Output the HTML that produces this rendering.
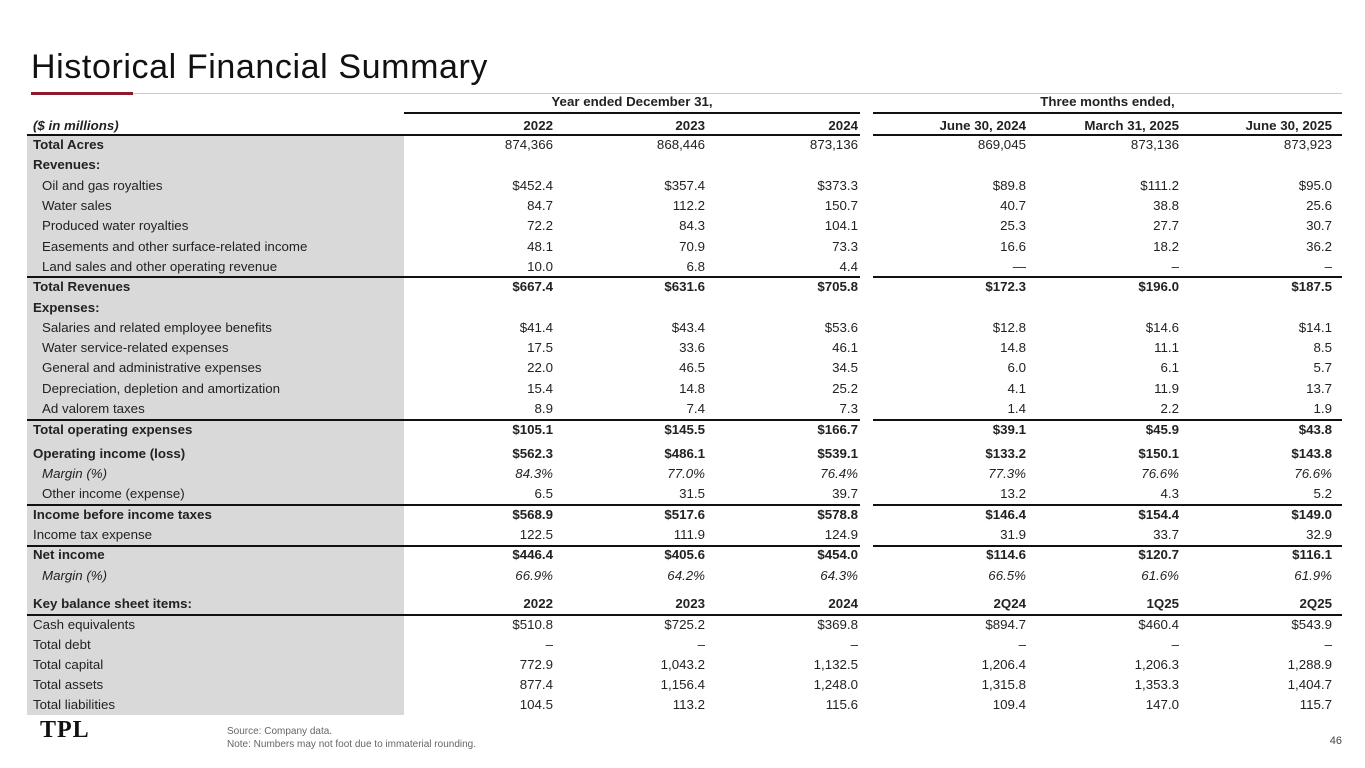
<!DOCTYPE html>
<html><head><meta charset="utf-8"><style>
body{margin:0;width:1365px;height:768px;background:#fff;position:relative;font-family:"Liberation Sans",sans-serif;color:#222;overflow:hidden}
.t{position:absolute;left:31px;top:48px;font-size:34px;letter-spacing:0.6px;color:#111}
.gl{position:absolute;left:31px;top:93px;width:1311px;height:1px;background:#ccc}
.rl{position:absolute;left:31px;top:92px;width:102px;height:3px;background:#8b1a2e}
.gray{position:absolute;left:27px;top:135px;width:377px;height:580px;background:#d9d9d9}
.r{position:absolute;left:27px;width:1315px;height:20px;font-size:13.3px;line-height:20px}
.r span{position:absolute;top:0}
.l{left:6px}.i{left:15px}
.c1{right:789px}.c2{right:637px}.c3{right:484px}.c4{right:316px}.c5{right:163px}.c6{right:10px}
.b{font-weight:bold}.it{font-style:italic}
.ln{position:absolute;height:1.5px;background:#111}
.h{position:absolute;font-size:13.3px;font-weight:bold}
</style></head><body>
<div class="t">Historical Financial Summary</div>
<div class="gl"></div><div class="rl"></div>
<div class="gray"></div>
<div class="h" style="left:404px;width:456px;text-align:center;top:94px">Year ended December 31,</div>
<div class="h" style="left:873px;width:469px;text-align:center;top:94px">Three months ended,</div>
<div class="ln" style="left:404px;width:456px;top:112px"></div>
<div class="ln" style="left:873px;width:469px;top:112px"></div>
<div class="r b" style="top:116px"><span class="l it">($ in millions)</span><span class="c1">2022</span><span class="c2">2023</span><span class="c3">2024</span><span class="c4">June 30, 2024</span><span class="c5">March 31, 2025</span><span class="c6">June 30, 2025</span></div>
<div class="ln" style="left:27px;width:833px;top:134px"></div><div class="ln" style="left:873px;width:469px;top:134px"></div>

<div class="r" style="top:135px"><span class="l b">Total Acres</span><span class="c1">874,366</span><span class="c2">868,446</span><span class="c3">873,136</span><span class="c4">869,045</span><span class="c5">873,136</span><span class="c6">873,923</span></div>
<div class="r" style="top:155px"><span class="l b">Revenues:</span></div>
<div class="r" style="top:176px"><span class="i">Oil and gas royalties</span><span class="c1">$452.4</span><span class="c2">$357.4</span><span class="c3">$373.3</span><span class="c4">$89.8</span><span class="c5">$111.2</span><span class="c6">$95.0</span></div>
<div class="r" style="top:196px"><span class="i">Water sales</span><span class="c1">84.7</span><span class="c2">112.2</span><span class="c3">150.7</span><span class="c4">40.7</span><span class="c5">38.8</span><span class="c6">25.6</span></div>
<div class="r" style="top:216px"><span class="i">Produced water royalties</span><span class="c1">72.2</span><span class="c2">84.3</span><span class="c3">104.1</span><span class="c4">25.3</span><span class="c5">27.7</span><span class="c6">30.7</span></div>
<div class="r" style="top:237px"><span class="i">Easements and other surface-related income</span><span class="c1">48.1</span><span class="c2">70.9</span><span class="c3">73.3</span><span class="c4">16.6</span><span class="c5">18.2</span><span class="c6">36.2</span></div>
<div class="r" style="top:257px"><span class="i">Land sales and other operating revenue</span><span class="c1">10.0</span><span class="c2">6.8</span><span class="c3">4.4</span><span class="c4">—</span><span class="c5">–</span><span class="c6">–</span></div>
<div class="ln" style="left:27px;width:833px;top:276px"></div><div class="ln" style="left:873px;width:469px;top:276px"></div>
<div class="r b" style="top:277px"><span class="l">Total Revenues</span><span class="c1">$667.4</span><span class="c2">$631.6</span><span class="c3">$705.8</span><span class="c4">$172.3</span><span class="c5">$196.0</span><span class="c6">$187.5</span></div>
<div class="r" style="top:298px"><span class="l b">Expenses:</span></div>
<div class="r" style="top:318px"><span class="i">Salaries and related employee benefits</span><span class="c1">$41.4</span><span class="c2">$43.4</span><span class="c3">$53.6</span><span class="c4">$12.8</span><span class="c5">$14.6</span><span class="c6">$14.1</span></div>
<div class="r" style="top:338px"><span class="i">Water service-related expenses</span><span class="c1">17.5</span><span class="c2">33.6</span><span class="c3">46.1</span><span class="c4">14.8</span><span class="c5">11.1</span><span class="c6">8.5</span></div>
<div class="r" style="top:358px"><span class="i">General and administrative expenses</span><span class="c1">22.0</span><span class="c2">46.5</span><span class="c3">34.5</span><span class="c4">6.0</span><span class="c5">6.1</span><span class="c6">5.7</span></div>
<div class="r" style="top:379px"><span class="i">Depreciation, depletion and amortization</span><span class="c1">15.4</span><span class="c2">14.8</span><span class="c3">25.2</span><span class="c4">4.1</span><span class="c5">11.9</span><span class="c6">13.7</span></div>
<div class="r" style="top:399px"><span class="i">Ad valorem taxes</span><span class="c1">8.9</span><span class="c2">7.4</span><span class="c3">7.3</span><span class="c4">1.4</span><span class="c5">2.2</span><span class="c6">1.9</span></div>
<div class="ln" style="left:27px;width:833px;top:419px"></div><div class="ln" style="left:873px;width:469px;top:419px"></div>
<div class="r b" style="top:420px"><span class="l">Total operating expenses</span><span class="c1">$105.1</span><span class="c2">$145.5</span><span class="c3">$166.7</span><span class="c4">$39.1</span><span class="c5">$45.9</span><span class="c6">$43.8</span></div>
<div class="r b" style="top:444px"><span class="l">Operating income (loss)</span><span class="c1">$562.3</span><span class="c2">$486.1</span><span class="c3">$539.1</span><span class="c4">$133.2</span><span class="c5">$150.1</span><span class="c6">$143.8</span></div>
<div class="r it" style="top:464px"><span class="i">Margin (%)</span><span class="c1">84.3%</span><span class="c2">77.0%</span><span class="c3">76.4%</span><span class="c4">77.3%</span><span class="c5">76.6%</span><span class="c6">76.6%</span></div>
<div class="r" style="top:484px"><span class="i">Other income (expense)</span><span class="c1">6.5</span><span class="c2">31.5</span><span class="c3">39.7</span><span class="c4">13.2</span><span class="c5">4.3</span><span class="c6">5.2</span></div>
<div class="ln" style="left:27px;width:833px;top:504px"></div><div class="ln" style="left:873px;width:469px;top:504px"></div>
<div class="r b" style="top:505px"><span class="l">Income before income taxes</span><span class="c1">$568.9</span><span class="c2">$517.6</span><span class="c3">$578.8</span><span class="c4">$146.4</span><span class="c5">$154.4</span><span class="c6">$149.0</span></div>
<div class="r" style="top:525px"><span class="l">Income tax expense</span><span class="c1">122.5</span><span class="c2">111.9</span><span class="c3">124.9</span><span class="c4">31.9</span><span class="c5">33.7</span><span class="c6">32.9</span></div>
<div class="ln" style="left:27px;width:833px;top:545px"></div><div class="ln" style="left:873px;width:469px;top:545px"></div>
<div class="r b" style="top:545px"><span class="l">Net income</span><span class="c1">$446.4</span><span class="c2">$405.6</span><span class="c3">$454.0</span><span class="c4">$114.6</span><span class="c5">$120.7</span><span class="c6">$116.1</span></div>
<div class="r it" style="top:566px"><span class="i">Margin (%)</span><span class="c1">66.9%</span><span class="c2">64.2%</span><span class="c3">64.3%</span><span class="c4">66.5%</span><span class="c5">61.6%</span><span class="c6">61.9%</span></div>
<div class="r b" style="top:594px"><span class="l">Key balance sheet items:</span><span class="c1">2022</span><span class="c2">2023</span><span class="c3">2024</span><span class="c4">2Q24</span><span class="c5">1Q25</span><span class="c6">2Q25</span></div>
<div class="ln" style="left:27px;width:1315px;top:614px"></div>
<div class="r" style="top:615px"><span class="l">Cash equivalents</span><span class="c1">$510.8</span><span class="c2">$725.2</span><span class="c3">$369.8</span><span class="c4">$894.7</span><span class="c5">$460.4</span><span class="c6">$543.9</span></div>
<div class="r" style="top:635px"><span class="l">Total debt</span><span class="c1">–</span><span class="c2">–</span><span class="c3">–</span><span class="c4">–</span><span class="c5">–</span><span class="c6">–</span></div>
<div class="r" style="top:655px"><span class="l">Total capital</span><span class="c1">772.9</span><span class="c2">1,043.2</span><span class="c3">1,132.5</span><span class="c4">1,206.4</span><span class="c5">1,206.3</span><span class="c6">1,288.9</span></div>
<div class="r" style="top:675px"><span class="l">Total assets</span><span class="c1">877.4</span><span class="c2">1,156.4</span><span class="c3">1,248.0</span><span class="c4">1,315.8</span><span class="c5">1,353.3</span><span class="c6">1,404.7</span></div>
<div class="r" style="top:695px"><span class="l">Total liabilities</span><span class="c1">104.5</span><span class="c2">113.2</span><span class="c3">115.6</span><span class="c4">109.4</span><span class="c5">147.0</span><span class="c6">115.7</span></div>
<div style="position:absolute;left:40px;top:717px;font-family:'Liberation Serif',serif;font-weight:bold;font-size:24px;color:#111;letter-spacing:1px">TPL</div>
<div style="position:absolute;left:227px;top:725px;font-size:10px;color:#666;line-height:13px">Source: Company data.<br>Note: Numbers may not foot due to immaterial rounding.</div>
<div style="position:absolute;right:23px;top:735px;font-size:11px;color:#444">46</div>
</body></html>
